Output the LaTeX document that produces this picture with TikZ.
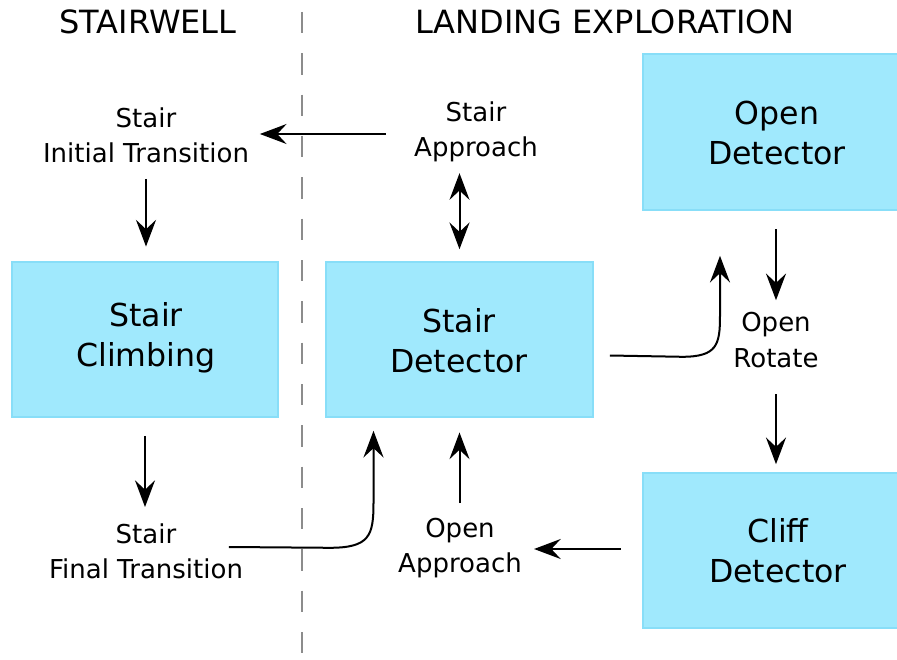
\documentclass[tikz,border=0pt]{standalone}
\usepackage{fontspec}
\setmainfont{DejaVu Sans}
\usetikzlibrary{arrows.meta,calc}
\definecolor{boxfill}{HTML}{A0E9FD}
\definecolor{boxline}{HTML}{88DEF8}
\definecolor{divgrey}{HTML}{8C8C8C}
\begin{document}
\begin{tikzpicture}[x=0.75pt,y=-0.75pt,
  box/.style={draw=boxline, fill=boxfill, line width=1.2pt, inner sep=0pt},
  boxtext/.style={font=\fontsize{23.7}{30}\selectfont, align=center, inner sep=0pt},
  lbl/.style={font=\fontsize{19.5}{26.5}\selectfont, align=center, inner sep=2pt},
  ttl/.style={font=\fontsize{24}{29}\selectfont, inner sep=0pt},
  tip/.tip={Stealth[length=20pt,width=15pt,inset=7pt]},
  arr/.style={line width=1.5pt, -tip},
  darr/.style={line width=1.5pt, tip-tip},
]
\useasboundingbox (0,0) rectangle (897,660);
\clip (0,0) rectangle (897,660);
\fill[white] (0,0) rectangle (897,660);

% divider
\draw[divgrey, line width=1.4pt, dash pattern=on 16pt off 15pt] (302,12) -- (302,660);

% titles
\node[ttl] (t1) at (148,22) {STAIRWELL};
\node[ttl] (t2) at (605,22) {LANDING EXPLORATION};

% boxes
\node[box, minimum width=199.5pt, minimum height=116.25pt] (scl) at (145,339.5) {};
\node[boxtext] (sclt) at (146,338) {Stair\\Climbing};
\node[box, minimum width=200.25pt, minimum height=116.25pt] (sdt) at (459.5,339.5) {};
\node[boxtext] (sdtt) at (459,341) {Stair\\Detector};
\node[box, minimum width=201pt, minimum height=117pt] (odt) at (777,132) {};
\node[boxtext] (odtt) at (777,133) {Open\\Detector};
\node[box, minimum width=201pt, minimum height=116.25pt] (cdt) at (777,550.5) {};
\node[boxtext] (cdtt) at (778,551) {Cliff\\Detector};

% labels
\node[lbl] (sit) at (146,135) {Stair\\Initial Transition};
\node[lbl] (sap) at (476,132) {Stair\\Approach};
\node[lbl] (ort) at (776,340) {Open\\Rotate};
\node[lbl] (sft) at (146,551) {Stair\\Final Transition};
\node[lbl] (oap) at (460,548) {Open\\Approach};

% connectors
\draw[arr, shorten <=19pt, shorten >=6pt] (sap.west |- 0,134) -- (sit.east |- 0,134);
\draw[arr, shorten <=10pt, shorten >=11pt] (sit.south) -- (sit.south |- scl.north);
\draw[darr, shorten <=6pt, shorten >=9pt] (sdt.north |- sap.south) -- (sdt.north);
\draw[arr, shorten <=13.5pt, shorten >=10pt] (scl.south) -- (scl.south |- sft.north);
\draw[arr] ($(sft.east)+(-17,-4)$) -- ($(sdt.south)+(-130,130)$)
  .. controls ($(sdt.south)+(-90,130)$) and ($(sdt.south)+(-86,118)$) .. ($(sdt.south)+(-86,85)$)
  -- ($(sdt.south)+(-86,13)$);
\draw[arr, shorten <=9pt, shorten >=11pt] (sdt.south |- oap.north) -- (sdt.south);
\draw[arr, shorten <=16pt, shorten >=7pt] (cdt.west |- 0,549) -- (oap.east |- 0,549);
\draw[arr] ($(sdt.east)+(16,16)$) -- ($(odt.south)+(-95,146)$)
  .. controls ($(odt.south)+(-60,146)$) and ($(odt.south)+(-57,134)$) .. ($(odt.south)+(-57,105)$)
  -- ($(odt.south)+(-57,45)$);
\draw[arr, shorten <=14pt, shorten >=7pt] (odt.south -| ort.north) -- (ort.north);
\draw[arr, shorten <=18pt, shorten >=6pt] (ort.south) -- (ort.south |- cdt.north);
\end{tikzpicture}
\end{document}
